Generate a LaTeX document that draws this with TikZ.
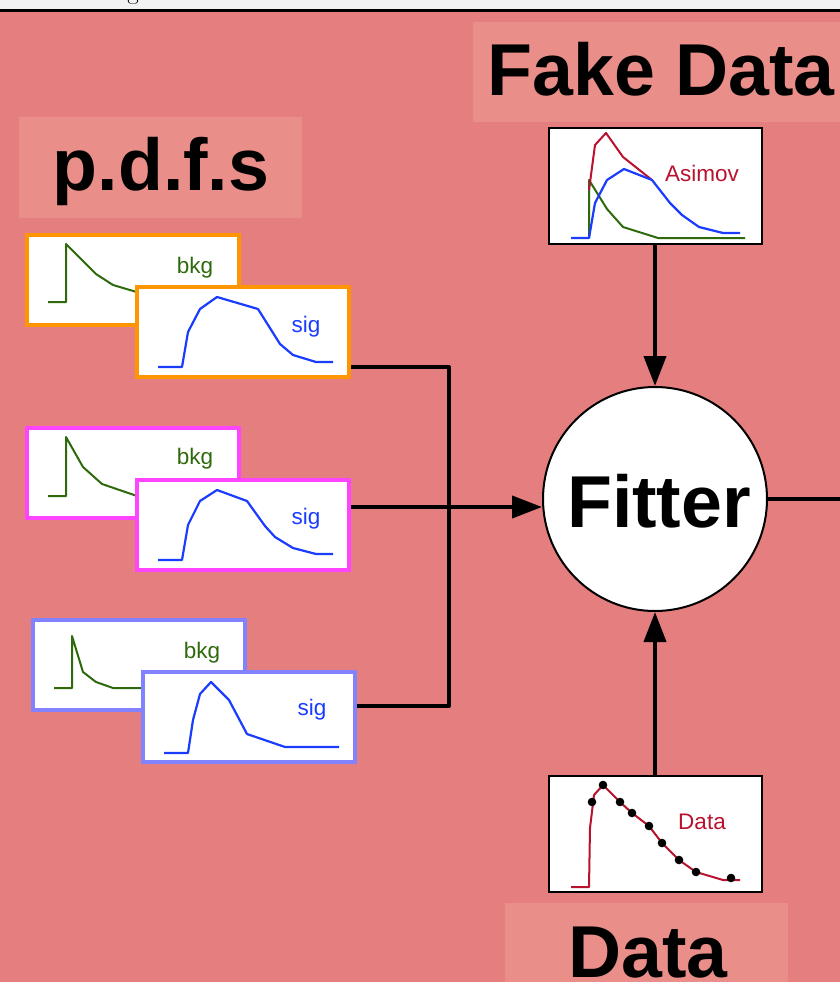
\documentclass[tikz,border=0pt]{standalone}
\usepackage[no-math]{fontspec}
\setmainfont{Liberation Sans}
\usetikzlibrary{arrows.meta}
\definecolor{bgpink}{HTML}{E57E7E}
\definecolor{lblpink}{HTML}{EA8E89}
\definecolor{topgray}{HTML}{F2F2F2}
\definecolor{cred}{HTML}{B8122E}
\definecolor{cblue}{HTML}{1A3CFF}
\definecolor{cgreen}{HTML}{2E6A0C}
\definecolor{corange}{HTML}{FF9500}
\definecolor{cmag}{HTML}{FF44FF}
\definecolor{clblue}{HTML}{8282FF}
\begin{document}
\begin{tikzpicture}[x=1pt,y=-1pt,
  bigtxt/.style={font=\bfseries\fontsize{73.5}{73.5}\selectfont, inner sep=0pt, anchor=base},
  lblbox/.style={fill=lblpink, draw=none},
  plotbox/.style={draw=black, fill=white, line width=2pt, minimum width=213pt, minimum height=116pt, inner sep=0pt},
  pdfbox/.style={fill=white, line width=4pt, minimum width=212pt, minimum height=90pt, inner sep=0pt},
  smalltxt/.style={font=\fontsize{22.5}{22.5}\selectfont, inner sep=0pt},
  gcurve/.style={cgreen, line width=2pt, line join=round},
  bcurve/.style={cblue, line width=2.2pt, line join=round},
  rcurve/.style={cred, line width=2pt, line join=round},
  conn/.style={black, line width=4pt, line join=round},
  arr/.style={conn, -{Triangle[length=30pt,width=22pt]}},
  toptxt/.style={font=\fontsize{52}{52}\selectfont, anchor=base west, inner sep=0pt}
]
\useasboundingbox (0,0) rectangle (840,982);
% background
\fill[bgpink] (0,0) rectangle (840,982);
\fill[topgray] (0,0) rectangle (840,9);
\draw[black, line width=3pt] (0,10.5) -- (840,10.5);
\begin{scope}
  \clip (0,0) rectangle (840,12);
  \node[toptxt] (topf) at (100,-8) {$f_{\mathrm{sig}}$};
  \node[toptxt] (topg) at (295,-8) {$g(x)$};
\end{scope}

% label boxes
\fill[lblbox] (473,22) rectangle (840,122);
\node[bigtxt] (fakelbl) at (661,95) {Fake Data};
\fill[lblbox] (19,117) rectangle (302,218);
\node[bigtxt] (pdflbl) at (161,190) {p.d.f.s};
\fill[lblbox] (505,903) rectangle (788,982);
\node[bigtxt] (datalbl) at (648,977) {Data};

% Fake data plot
\node[plotbox] (fake) at (655,186) {};
\draw[gcurve] (589,238) -- (589,180) -- (607,209) -- (623,227) -- (658,238) -- (745,238);
\draw[rcurve] (589,190) -- (595,145) -- (606,133) -- (623,157) -- (652,180);
\draw[bcurve] (571,238) -- (589,238) -- (595,203) -- (607,180) -- (624,169) -- (652,180) -- (670,203) -- (682,215) -- (699,227) -- (723,233) -- (740,233);
\node[smalltxt, text=cred] (asimov) at (702,173) {Asimov};

% Data plot
\node[plotbox] (data) at (655,834) {};
\draw[rcurve] (571,887) -- (589,887) -- (590,828) -- (594,795) -- (603,785) -- (620,802) -- (632,813) -- (649,826) -- (662,843) -- (679,860) -- (696,872) -- (723,880) -- (740,880);
\foreach \px/\py in {592/802,603/785,620/802,632/813,649/826,662/843,679/860,696/872,731/878}
  \fill[black] (\px,\py) circle (4.3pt);
\node[smalltxt, text=cred] (datatxt) at (702,822) {Data};

% Fitter
\node[circle, draw=black, fill=white, line width=2pt, minimum size=224pt, inner sep=0pt] (fitter) at (655,499) {};
\node[bigtxt] (fittxt) at (659,527) {Fitter};

% orange pdfs
\node[pdfbox, draw=corange] (obkg) at (133,280) {};
\draw[gcurve] (48,302) -- (66,302) -- (66,244) -- (96,274) -- (113,285) -- (140,293);
\node[smalltxt, text=cgreen] (obkgt) at (195,268) {bkg};
\node[pdfbox, draw=corange] (osig) at (243,332) {};
\draw[bcurve] (158,367) -- (182,367) -- (188,332) -- (200,309) -- (217,297) -- (258,309) -- (280,344) -- (293,355) -- (316,362) -- (333,362);
\node[smalltxt, text=cblue] (osigt) at (306,327) {sig};

% magenta pdfs
\node[pdfbox, draw=cmag] (mbkg) at (133,473) {};
\draw[gcurve] (48,496) -- (66,496) -- (66,437) -- (83,467) -- (102,484) -- (140,497);
\node[smalltxt, text=cgreen] (mbkgt) at (195,459) {bkg};
\node[pdfbox, draw=cmag] (msig) at (243,524.5) {};
\draw[bcurve] (158,560) -- (182,560) -- (188,525) -- (200,501) -- (217,490) -- (247,501) -- (265,526) -- (275,537) -- (293,548) -- (316,554) -- (333,554);
\node[smalltxt, text=cblue] (msigt) at (306,519) {sig};

% blue pdfs
\node[pdfbox, draw=clblue] (bbkg) at (138.5,665) {};
\draw[gcurve] (54,688) -- (72,688) -- (72,636) -- (83,672) -- (96,682) -- (113,688) -- (145,688);
\node[smalltxt, text=cgreen] (bbkgt) at (202,653) {bkg};
\node[pdfbox, draw=clblue] (bsig) at (249,717) {};
\draw[bcurve] (164,753) -- (188,753) -- (193,720) -- (200,694) -- (211,682) -- (229,700) -- (247,734) -- (285,747) -- (339,747);
\node[smalltxt, text=cblue] (bsigt) at (312,710) {sig};

% connectors
\coordinate (rightend) at (840,499);
\draw[conn] (osig.east |- 0,367) -| (449,706) -- (bsig.east |- 0,706);
\draw[arr] (msig.east |- 0,507) -- (fitter.west |- 0,507);
\draw[arr] (fake.south) -- (fitter.north);
\draw[arr] (data.north) -- (fitter.south);
\draw[conn] (fitter.east) -- (rightend);
\end{tikzpicture}
\end{document}
